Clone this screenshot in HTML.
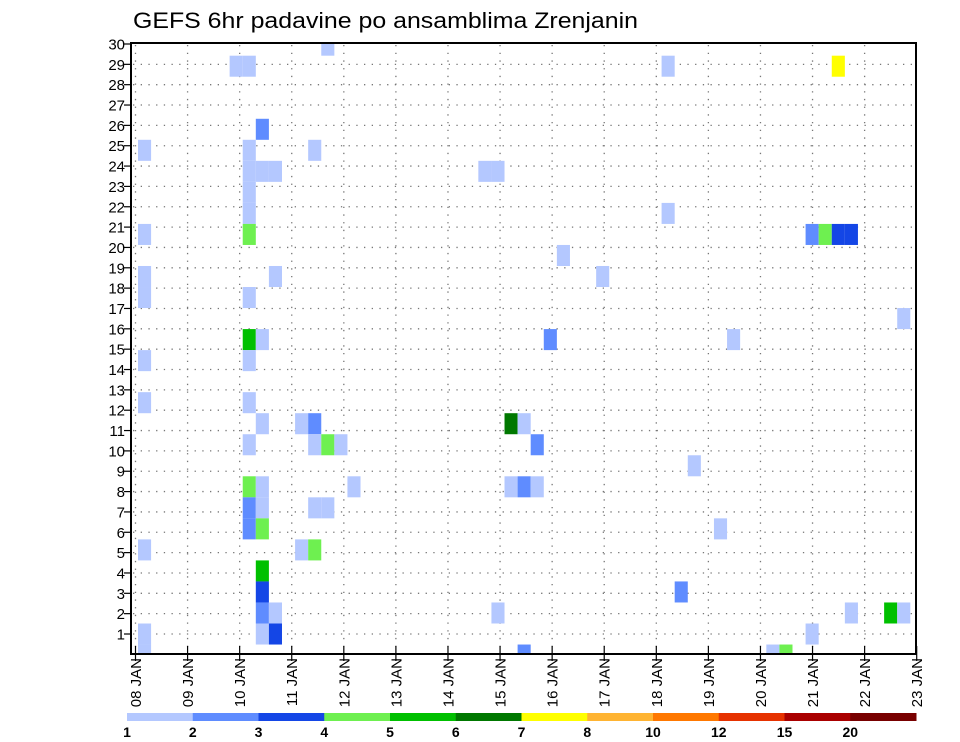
<!DOCTYPE html>
<html><head><meta charset="utf-8"><style>
html,body{margin:0;padding:0;background:#fff;}
svg{display:block;font-family:"Liberation Sans",sans-serif;}
</style></head><body>
<svg id="chart" width="960" height="742" viewBox="0 0 960 742" xmlns="http://www.w3.org/2000/svg">
<text x="133" y="28" font-size="22" textLength="505" lengthAdjust="spacingAndGlyphs" fill="#000">GEFS 6hr padavine po ansamblima Zrenjanin</text>
<g id="grid"></g>
<g id="cells"></g>
<rect x="131" y="43" width="785" height="611" fill="none" stroke="#000" stroke-width="2"/>
<g id="yaxis"></g>
<g id="xaxis"></g>
<g id="legend"></g>
</svg>
<script>
// ensemble member (row), 6-hour step index from 08 JAN 00Z, colour level
const members = [30,29,29,29,29,26,25,25,25,24,24,24,24,24,23,22,22,21,21,21,21,21,21,20,19,19,19,18,18,17,16,16,16,16,15,15,12,12,11,11,11,11,11,10,10,10,10,10,9,8,8,8,8,8,8,7,7,7,7,6,6,6,5,5,5,4,3,3,2,2,2,2,2,2,1,1,1,1,0,0,0,0];
const steps   = [14,7,8,40,53,9,0,8,13,8,9,10,26,27,8,8,40,0,8,51,52,53,54,32,0,10,35,0,8,58,8,9,31,45,0,8,0,8,9,12,13,28,29,8,13,14,15,30,42,8,9,16,28,29,30,8,9,13,14,8,9,44,0,12,13,9,9,41,9,10,27,54,57,58,0,9,10,51,0,29,48,49];
const levels  = [1,1,1,1,7,2,1,1,1,1,1,1,1,1,1,1,1,1,4,2,4,3,3,1,1,1,1,1,1,1,5,1,2,1,1,1,1,1,1,1,2,6,1,1,1,4,1,2,1,4,1,1,1,2,1,2,1,1,1,2,4,1,1,1,4,5,3,2,2,1,1,1,5,1,1,1,3,1,1,2,1,4];
const dayLabels = ["08 JAN","09 JAN","10 JAN","11 JAN","12 JAN","13 JAN","14 JAN","15 JAN","16 JAN","17 JAN","18 JAN","19 JAN","20 JAN","21 JAN","22 JAN","23 JAN"];
const yTicks = [1,2,3,4,5,6,7,8,9,10,11,12,13,14,15,16,17,18,19,20,21,22,23,24,25,26,27,28,29,30];
const legendLabels = ["1","2","3","4","5","6","7","8","10","12","15","20"];
const palette = ["#b4c8ff","#5f8cff","#1446e6","#6ef050","#00c000","#007800","#ffff00","#ffb432","#ff7800","#e63200","#aa0000","#780000"];

const NS="http://www.w3.org/2000/svg";
function mk(tag,attrs,parent){const e=document.createElementNS(NS,tag);for(const k in attrs)e.setAttribute(k,attrs[k]);parent.appendChild(e);return e;}
const xDay = d => 135.5 + d*52.08;
const xStep = i => 138 + i*13.09;
const yTick = v => 634 - (v-1)*20.345;
const yCell = v => 634 - (v-1-(v>=13?1:0))*21.03;

const grid=document.getElementById('grid');
for(const v of yTicks){ if(v===30) continue;
  const l=mk('line',{x1:133,x2:915,y1:yTick(v),y2:yTick(v),stroke:'#777','stroke-width':1.3,'stroke-dasharray':'1.3,6.4'},grid);
  
  
}
for(let d=0;d<dayLabels.length-1;d++){
  const l=mk('line',{x1:xDay(d),x2:xDay(d),y1:45,y2:653,stroke:'#777','stroke-width':1.3,'stroke-dasharray':'1.3,6.4'},grid);
  
  
}

const cells=document.getElementById('cells');
const clip=mk('clipPath',{id:'pc'},mk('defs',{},document.getElementById('chart')));
mk('rect',{x:131,y:43,width:785,height:611},clip);
cells.setAttribute('clip-path','url(#pc)');
for(let k=0;k<members.length;k++){
  const c=yCell(members[k]);
  const r=mk('rect',{x:xStep(steps[k]),y:c-10.5,width:13.09,height:21.03,fill:palette[levels[k]-1]},cells);
  
  
}

const ya=document.getElementById('yaxis');
for(const v of yTicks){
  const t=mk('line',{x1:124,x2:131,y1:yTick(v),y2:yTick(v),stroke:'#000','stroke-width':1.2},ya);
  
  
  const tx=mk('text',{x:125,y:yTick(v)+5.5,'font-size':15,'text-anchor':'end',fill:'#000'},ya);
  tx.textContent=v;
  
  
}
const xa=document.getElementById('xaxis');
for(let d=0;d<dayLabels.length;d++){
  const x=xDay(d);
  const t=mk('line',{x1:x,x2:x,y1:646,y2:661,stroke:'#000','stroke-width':1.2},xa);
  
  
  const tx=mk('text',{transform:`translate(${x+5.5},658) rotate(-90)`,'font-size':15,'text-anchor':'end',fill:'#000'},xa);
  tx.textContent=dayLabels[d];
  
  
}

const lg=document.getElementById('legend');
const segW=(916-127)/palette.length;
for(let k=0;k<palette.length;k++){
  const r=mk('rect',{x:127+k*segW,y:713,width:segW+0.5,height:8,fill:palette[k]},lg);
  
  
  const tx=mk('text',{x:127+k*segW,y:737,'font-size':14,'font-weight':'bold','text-anchor':'middle',fill:'#000'},lg);
  tx.textContent=legendLabels[k];
  
  
}
</script>
</body></html>
